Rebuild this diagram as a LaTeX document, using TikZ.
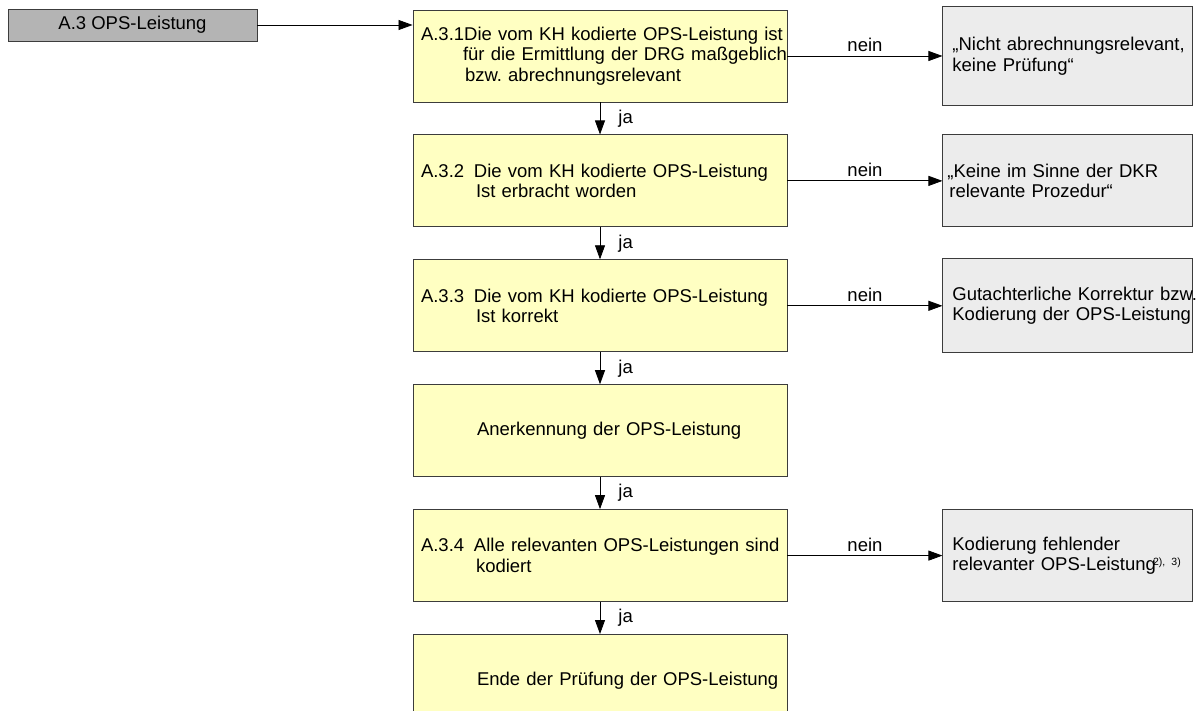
\documentclass[tikz,border=0pt]{standalone}
\usepackage{fontspec}
\setmainfont{Liberation Sans}
\usetikzlibrary{arrows.meta, positioning}
\frenchspacing

\definecolor{boxgelb}{RGB}{255,255,194}
\definecolor{boxgrau}{RGB}{236,236,236}
\definecolor{kopfgrau}{RGB}{180,180,180}
\definecolor{rand}{RGB}{60,60,60}

\begin{document}
\begin{tikzpicture}[
    x=1pt, y=-1pt,
    font=\fontsize{18.5}{20.5}\selectfont,
    node distance = 32pt and 155pt,
    pruefung/.style = {
        rectangle, draw=rand, fill=boxgelb, line width=0.9pt,
        minimum width=374pt, minimum height=92pt, text width=358pt,
        inner xsep=8pt, align=left
    },
    ergebnis/.style = {
        rectangle, draw=rand, fill=boxgrau, line width=0.9pt,
        minimum width=250pt, minimum height=92pt, text width=231pt,
        inner xsep=9.5pt, align=left
    },
    kopf/.style = {
        rectangle, draw=rand, fill=kopfgrau, line width=0.9pt,
        minimum width=249pt, minimum height=32pt
    },
    arr/.style = {-{Triangle[length=14pt, width=10pt]}, line width=0.8pt, draw=black},
    ann/.style = {inner sep=0pt},
]
\useasboundingbox (0,0) rectangle (1203,711);

\node[kopf] (ops) at (132.5,25) {A.3 OPS-Leistung};

% Pruefschritte
\node[pruefung] (a31) at (600,56) {\mbox{A.3.1Die vom KH kodierte OPS-Leistung ist}\\
    \mbox{\hspace*{42pt}für die Ermittlung der DRG maßgeblich}\\
    \mbox{\hspace*{44pt}bzw. abrechnungsrelevant}};
\node[pruefung, below=of a31] (a32) {\mbox{\makebox[53pt][l]{A.3.2}Die vom KH kodierte OPS-Leistung}\\
    \mbox{\hspace*{55pt}Ist erbracht worden}};
\node[pruefung, below=of a32] (a33) {\mbox{\makebox[53pt][l]{A.3.3}Die vom KH kodierte OPS-Leistung}\\
    \mbox{\hspace*{55pt}Ist korrekt}};
\node[pruefung, below=of a33] (anerk) {\mbox{\hspace*{56pt}Anerkennung der OPS-Leistung}};
\node[pruefung, below=of anerk] (a34) {\mbox{\makebox[53pt][l]{A.3.4}Alle relevanten OPS-Leistungen sind}\\
    \mbox{\hspace*{55pt}kodiert}};
\node[pruefung, below=of a34] (ende) {\mbox{\hspace*{56pt}Ende der Prüfung der OPS-Leistung}};

% Ergebnisse bei "nein"
\node[ergebnis, right=of a31, minimum height=99pt] (e1) {\mbox{„Nicht abrechnungsrelevant,}\\\mbox{keine Prüfung“}};
\node[ergebnis, right=of a32] (e2) {\mbox{\hspace*{-5pt}„Keine im Sinne der DKR}\\\mbox{\hspace*{-3pt}relevante Prozedur“}};
\node[ergebnis, right=of a33, minimum height=94pt] (e3) {\mbox{Gutachterliche Korrektur bzw.}\\\mbox{Kodierung der OPS-Leistung}};
\node[ergebnis, right=of a34] (e4) {\mbox{Kodierung fehlender}\\\mbox{relevanter OPS-Leistung\hspace{-3pt}\raisebox{5pt}{\fontsize{10.5}{10.5}\selectfont 2), 3)}}};

\draw[arr] (ops.east) -- (ops.east -| a31.west);

\draw[arr] (a31) -- (a32) node[midway, right=18pt, ann]{ja};
\draw[arr] (a32) -- (a33) node[midway, right=18pt, ann]{ja};
\draw[arr] (a33) -- (anerk) node[midway, right=18pt, ann]{ja};
\draw[arr] (anerk) -- (a34) node[midway, right=18pt, ann]{ja};
\draw[arr] (a34) -- (ende) node[midway, right=18pt, ann]{ja};

\draw[arr] (a31) -- (e1) node[midway, above=4pt, ann]{nein};
\draw[arr] (a32) -- (e2) node[midway, above=4pt, ann]{nein};
\draw[arr] (a33) -- (e3) node[midway, above=4pt, ann]{nein};
\draw[arr] (a34) -- (e4) node[midway, above=4pt, ann]{nein};

\end{tikzpicture}
\end{document}
